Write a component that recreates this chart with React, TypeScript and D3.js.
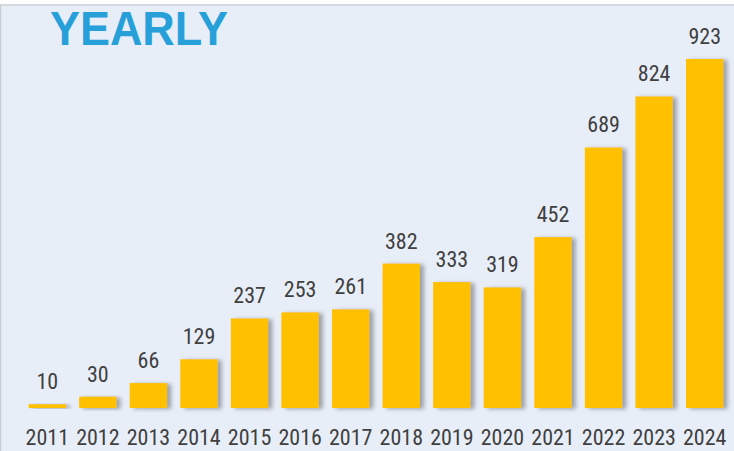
import React from "react";
import * as d3 from "d3";

const years = ["2011","2012","2013","2014","2015","2016","2017","2018","2019","2020","2021","2022","2023","2024"];
const values = [10,30,66,129,237,253,261,382,333,319,452,689,824,923];
const title = "YEARLY";

const W = 734, H = 451;
const baseY = 408;

export default function App() {
  const x = d3.scaleBand<string>().domain(years).range([22, 730]).paddingInner(0.26).paddingOuter(0.13);
  const y = d3.scaleLinear().domain([0, 923]).range([baseY, 59]);
  const bw = x.bandwidth();
  const labelFont = "'Liberation Sans Narrow', 'Arial Narrow', 'Roboto Condensed', sans-serif";
  return (
    <div style={{ position: "fixed", left: 0, top: 0 }}>
      <svg width={W} height={H} style={{ display: "block" }}>
        <defs>
          <filter id="sh" x="-20%" y="-10%" width="160%" height="130%">
            <feDropShadow dx="4" dy="1" stdDeviation="2" floodColor="#7a7f88" floodOpacity="0.7" />
          </filter>
          <filter id="sh2" x="-5%" y="-100%" width="110%" height="400%">
            <feDropShadow dx="0" dy="1.5" stdDeviation="1" floodColor="#9aa0a8" floodOpacity="0.6" />
          </filter>
        </defs>
        <rect x={0} y={0} width={W} height={H} fill="#ffffff" />
        <rect x={0} y={4} width={W} height={H - 4} fill="#E8EEF8" />
        <line x1={0} x2={W} y1={5} y2={5} stroke="#d6d9de" strokeWidth={2} />
        <line x1={0.5} x2={0.5} y1={5} y2={H} stroke="#c9ccd2" strokeWidth={1.5} />
        <text x={50} y={45} fill="#27A0D9" fontFamily="'Liberation Sans', Arial, sans-serif" fontWeight="bold" fontSize={48} textLength={178} lengthAdjust="spacingAndGlyphs">{title}</text>
        <line x1={22} x2={730} y1={baseY + 0.5} y2={baseY + 0.5} stroke="#c8ccd2" strokeWidth={1.5} filter="url(#sh2)" />
        {years.map((yr, i) => (
          <rect key={yr} x={x(yr)} y={y(values[i])} width={bw} height={baseY - y(values[i])} fill="#FFC000" filter="url(#sh)" />
        ))}
        {years.map((yr, i) => (
          <text key={"v" + yr} x={(x(yr) as number) + bw / 2} y={y(values[i]) - 15} textAnchor="middle" fill="#404040" fontFamily={labelFont} fontSize={22}>{values[i]}</text>
        ))}
        {years.map((yr) => (
          <text key={"t" + yr} x={(x(yr) as number) + bw / 2} y={445} textAnchor="middle" fill="#404040" fontFamily={labelFont} fontSize={22}>{yr}</text>
        ))}
      </svg>
    </div>
  );
}
